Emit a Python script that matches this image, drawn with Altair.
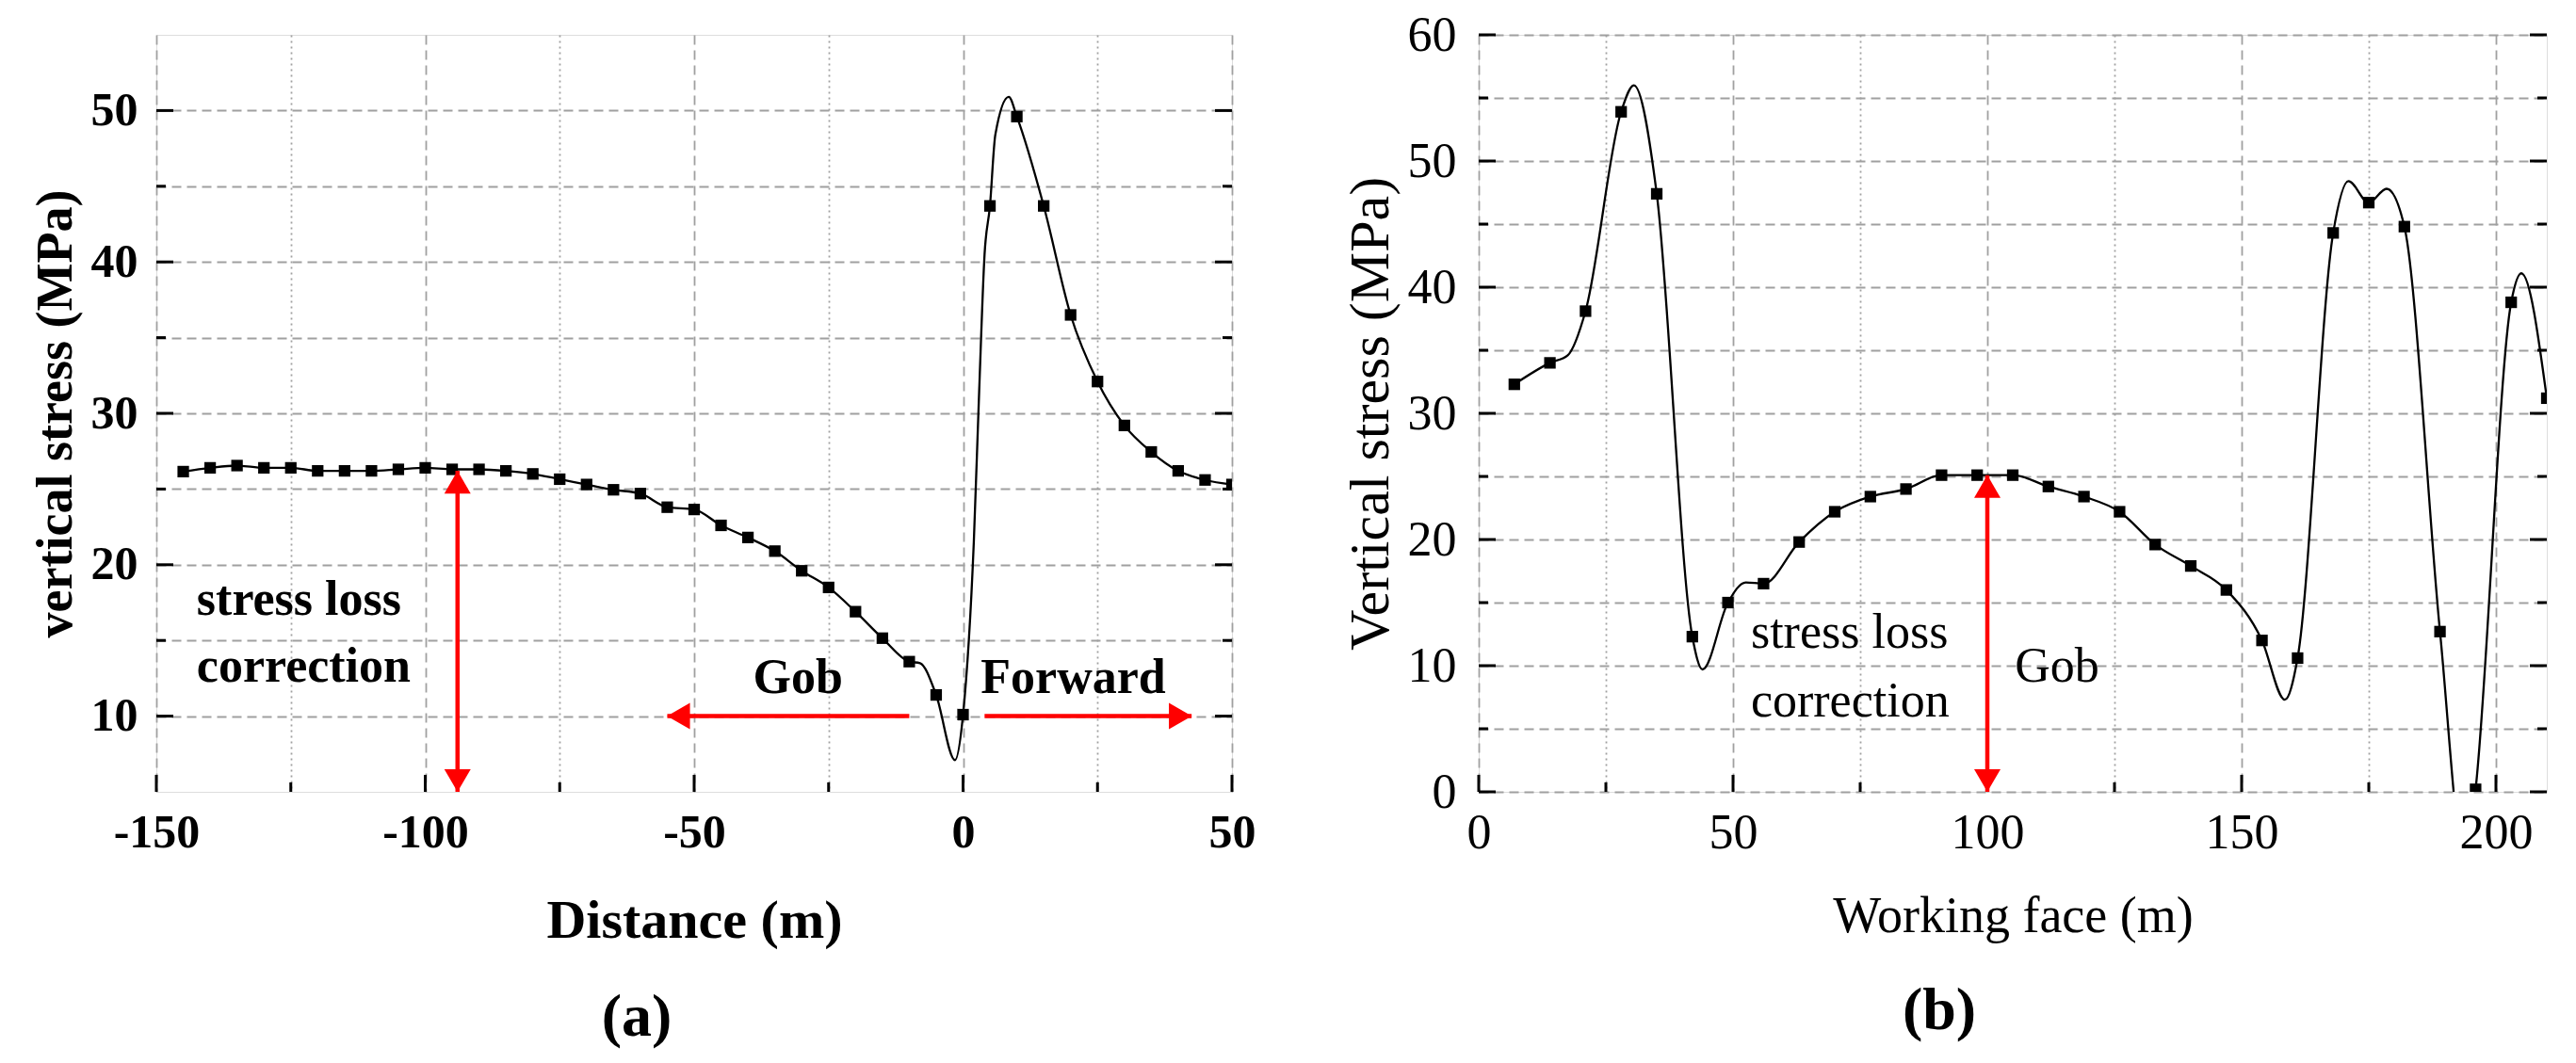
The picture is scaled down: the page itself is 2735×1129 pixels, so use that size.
import altair as alt
import pandas as pd

FONT = "Liberation Serif"
RED = "#ff0000"
GRID = "#a0a0a0"

# ---------------- Panel (a) ----------------
a_x = [-145, -140, -135, -130, -125, -120, -115, -110, -105, -100,
       -95, -90, -85, -80, -75, -70, -65, -60, -55, -50,
       -45, -40, -35, -30, -25, -20, -15, -10, -5, 0,
       5, 10, 15, 20, 25, 30, 35, 40, 45, 50]
a_y = [26.15, 26.4, 26.55, 26.4, 26.4, 26.2, 26.2, 26.2, 26.3, 26.4,
       26.3, 26.3, 26.2, 26.0, 25.65, 25.3, 24.95, 24.7, 23.8, 23.65,
       22.6, 21.8, 20.9, 19.6, 18.5, 16.9, 15.15, 13.6, 11.4, 10.1,
       43.7, 49.6, 43.7, 36.5, 32.1, 29.2, 27.45, 26.2, 25.6, 25.3]
# points of the smooth curve between markers
a_curve_x = [-8, -1.5, 2, 3, 4, 6, 8.5]
a_curve_y = [13.5, 7.1, 21.5, 31.5, 40.5, 48.4, 50.9]

a_xgrid = [-150, -125, -100, -75, -50, -25, 0, 25, 50]
a_ygrid = [10, 15, 20, 25, 30, 35, 40, 45, 50]
a_xmajor = [-150, -100, -50, 0, 50]
a_xminor = [-125, -75, -25, 25]
a_ymajor = [10, 20, 30, 40, 50]
a_yminor = [15, 25, 35, 45]

a_vert_arrow_x = [-94]
a_vert_arrow_top = [26.2]
a_vert_arrow_bot = [5]
a_gob_from = [-10]
a_gob_to = [-55]
a_fwd_from = [4]
a_fwd_to = [42.5]
a_arrow_y = [10]

a_text_x = [-142.5, -142.5, -30.7, 20.5]
a_text_y = [17.7, 13.3, 12.5, 12.5]
a_text = ["stress loss", "correction", "Gob", "Forward"]
a_text_align = ["left", "left", "center", "center"]

# ---------------- Panel (b) ----------------
b_x = [7, 14, 21, 28, 35, 42, 49, 56, 63, 70,
       77, 84, 91, 98, 105, 112, 119, 126, 133, 140,
       147, 154, 161, 168, 175, 182, 189, 196, 203, 210]
b_y = [32.3, 34.0, 38.1, 53.9, 47.4, 12.3, 15.0, 16.5, 19.8, 22.2,
       23.4, 24.0, 25.1, 25.1, 25.1, 24.2, 23.4, 22.2, 19.6, 17.9,
       16.0, 12.0, 10.6, 44.3, 46.7, 44.8, 12.7, 0.2, 38.8, 31.2]
b_curve_x = [17.5, 30.5, 44, 52.5, 158.5, 171, 178.5, 194, 205]
b_curve_y = [34.6, 56.0, 9.7, 16.6, 7.3, 48.4, 47.8, -6.0, 41.1]

b_xgrid = [0, 25, 50, 75, 100, 125, 150, 175, 200]
b_ygrid = [0, 5, 10, 15, 20, 25, 30, 35, 40, 45, 50, 55, 60]
b_xmajor = [0, 50, 100, 150, 200]
b_xminor = [25, 75, 125, 175]
b_ymajor = [0, 10, 20, 30, 40, 50, 60]
b_yminor = [5, 15, 25, 35, 45, 55]

b_vert_arrow_x = [100]
b_vert_arrow_top = [25.1]
b_vert_arrow_bot = [0]

b_text_x = [53.5, 53.5, 113.7]
b_text_y = [12.6, 7.2, 9.9]
b_text = ["stress loss", "correction", "Gob"]
b_text_align = ["left", "left", "center"]

W_A, W_B, H = 1142, 1134, 804
MAJ, MIN = 18, 10
HEAD = 784  # arrow head symbol area
HOFF = 12   # half height of arrow head


def make_panel(mx, my, cx, cy, xdom, ydom, xgrid, ygrid, xmaj, xmin, ymaj, ymin,
               xlab_step, ylab_step, xtitle, ytitle, weight, W,
               tick_fs, xtitle_fs, ytitle_fs, ylabpad, ytitlepad, xtitlepad,
               varrow_x, varrow_top, varrow_bot, harrows,
               tx, ty, tt, talign, panel_label, label_dx):
    xs = alt.Scale(domain=xdom, nice=False, zero=False)
    ys = alt.Scale(domain=ydom, nice=False, zero=False)
    ax_x = alt.Axis(
        title=xtitle, values=xgrid,
        labelExpr=f"datum.value % {xlab_step} == 0 ? '' + datum.value : ''",
        ticks=False, domain=False, grid=True, gridColor=GRID, gridWidth=1.8,
        gridDash={"condition": {"test": f"datum.value % {xlab_step} == 0", "value": [10, 6]},
                  "value": [2, 4]},
        labelFont=FONT, labelFontSize=tick_fs, labelFontWeight=weight, labelColor="black",
        labelPadding=18, labelFlush=False, labelOverlap=False,
        titleFont=FONT, titleFontSize=xtitle_fs, titleFontWeight=weight, titleColor="black",
        titlePadding=xtitlepad)
    ax_y = alt.Axis(
        title=ytitle, values=ygrid,
        labelExpr=f"datum.value % {ylab_step} == 0 ? '' + datum.value : ''",
        ticks=False, domain=False, grid=True, gridColor=GRID, gridWidth=1.8,
        gridDash=[10, 6],
        labelFont=FONT, labelFontSize=tick_fs, labelFontWeight=weight, labelColor="black",
        labelPadding=ylabpad, labelFlush=False, labelOverlap=False,
        titleFont=FONT, titleFontSize=ytitle_fs, titleFontWeight=weight, titleColor="black",
        titlePadding=ytitlepad)

    markers = pd.DataFrame({"x": mx, "y": my})
    curve = pd.concat([markers, pd.DataFrame({"x": cx, "y": cy})]).sort_values("x")

    X = alt.X("x:Q", scale=xs, axis=ax_x)
    Y = alt.Y("y:Q", scale=ys, axis=ax_y)

    line = alt.Chart(curve).mark_line(color="black", strokeWidth=2.3,
                                      interpolate="monotone", clip=True).encode(x=X, y=Y)
    pts = alt.Chart(markers).mark_square(size=150, color="black", opacity=1,
                                         clip=True).encode(x=X, y=Y)

    layers = [line, pts]

    # inward ticks on left, right and bottom edges
    def tick_df(v):
        return pd.DataFrame({"x": v, "y": v})
    for vals, ln in ((ymaj, MAJ), (ymin, MIN)):
        d = tick_df(vals)
        layers.append(alt.Chart(d).mark_rule(color="black", strokeWidth=3).encode(
            y=Y, x=alt.value(0), x2=alt.value(ln)))
        layers.append(alt.Chart(d).mark_rule(color="black", strokeWidth=3).encode(
            y=Y, x=alt.value(W), x2=alt.value(W - ln)))
    for vals, ln in ((xmaj, MAJ), (xmin, MIN)):
        d = tick_df(vals)
        layers.append(alt.Chart(d).mark_rule(color="black", strokeWidth=3).encode(
            x=X, y=alt.value(H), y2=alt.value(H - ln)))

    # red double arrow (vertical)
    va = pd.DataFrame({"x": varrow_x, "y": varrow_top, "y2": varrow_bot})
    layers.append(alt.Chart(va).mark_rule(color=RED, strokeWidth=4.5).encode(
        x=X, y=Y, y2="y2:Q"))
    layers.append(alt.Chart(va).mark_point(shape="triangle-up", size=HEAD, filled=True,
                                           color=RED, opacity=1, yOffset=HOFF).encode(x=X, y=Y))
    layers.append(alt.Chart(va).mark_point(shape="triangle-down", size=HEAD, filled=True,
                                           color=RED, opacity=1, yOffset=-HOFF).encode(
        x=X, y=alt.Y("y2:Q", scale=ys, axis=ax_y)))

    # horizontal arrows
    for (x0, x1, yy, shape, off) in harrows:
        ha = pd.DataFrame({"x": x0, "x2": x1, "y": yy})
        layers.append(alt.Chart(ha).mark_rule(color=RED, strokeWidth=4.5).encode(
            x=X, x2="x2:Q", y=Y))
        layers.append(alt.Chart(ha).mark_point(shape=shape, size=HEAD, filled=True, color=RED,
                                               opacity=1, xOffset=off).encode(
            x=alt.X("x2:Q", scale=xs, axis=ax_x), y=Y))

    # annotations
    td = pd.DataFrame({"x": tx, "y": ty, "t": tt, "a": talign})
    for al in ("left", "center"):
        layers.append(alt.Chart(td[td["a"] == al]).mark_text(
            align=al, baseline="middle", font=FONT, fontSize=52, fontWeight=weight,
            color="black").encode(x=X, y=Y, text="t:N"))

    return alt.layer(*layers).properties(
        width=W, height=H,
        title=alt.TitleParams(panel_label, orient="bottom", anchor="middle", frame="group",
                              font=FONT, fontSize=64, fontWeight="bold", color="black",
                              offset=42, dx=label_dx))


left = make_panel(a_x, a_y, a_curve_x, a_curve_y, [-150, 50], [5, 55],
                  a_xgrid, a_ygrid, a_xmajor, a_xminor, a_ymajor, a_yminor,
                  50, 10, "Distance (m)", "vertical stress (MPa)", "bold", W_A,
                  50, 58, 54, 20, 10, 40,
                  a_vert_arrow_x, a_vert_arrow_top, a_vert_arrow_bot,
                  [(a_gob_from, a_gob_to, a_arrow_y, "triangle-left", HOFF),
                   (a_fwd_from, a_fwd_to, a_arrow_y, "triangle-right", -HOFF)],
                  a_text_x, a_text_y, a_text, a_text_align, "(a)", -61)

right = make_panel(b_x, b_y, b_curve_x, b_curve_y, [0, 210], [0, 60],
                   b_xgrid, b_ygrid, b_xmajor, b_xminor, b_ymajor, b_yminor,
                   50, 10, "Working face (m)", "Vertical stress (MPa)", "normal", W_B,
                   52, 54, 60, 24, 8, 36,
                   b_vert_arrow_x, b_vert_arrow_top, b_vert_arrow_bot,
                   [],
                   b_text_x, b_text_y, b_text, b_text_align, "(b)", -78)

chart = alt.hconcat(left, right, spacing=262, bounds="flush").properties(
    padding={"left": 23, "top": 2, "right": 5, "bottom": 5}
).configure_view(stroke="black", strokeWidth=3).configure(background="white")

chart.save("out.html", embed_options={"renderer": "svg", "actions": False})
